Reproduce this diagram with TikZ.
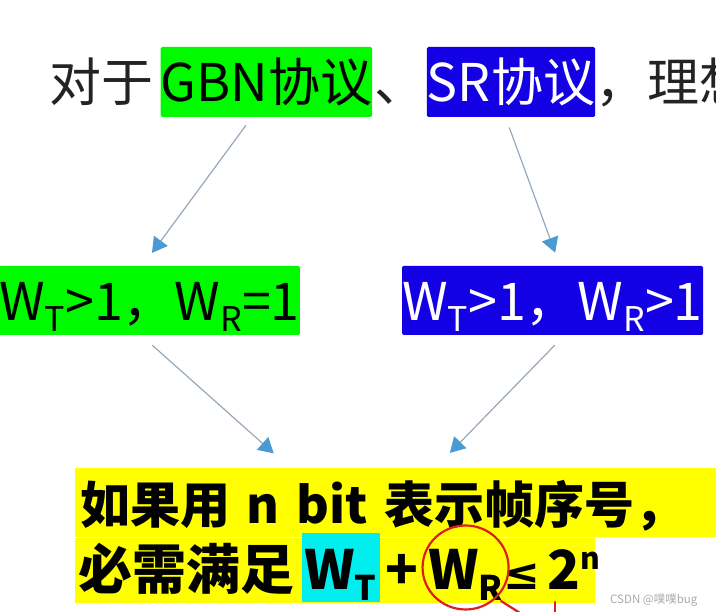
\documentclass[tikz,border=0pt]{standalone}
\usepackage{fontspec}
\setmainfont{Noto Sans CJK SC}
\newfontfamily\symf{DejaVu Sans}
\usetikzlibrary{arrows.meta, positioning}
\definecolor{hgreen}{RGB}{0,250,0}
\definecolor{hblue}{RGB}{20,0,228}
\definecolor{hyellow}{RGB}{255,255,0}
\definecolor{hcyan}{RGB}{0,238,238}
\definecolor{flowline}{RGB}{150,168,188}
\definecolor{flowhead}{RGB}{75,155,210}
\definecolor{penred}{RGB}{222,30,30}
\definecolor{txtgray}{RGB}{35,35,35}
\definecolor{wmgray}{RGB}{170,170,170}
\newcommand{\lowidx}[1]{\raisebox{-11pt}{\fontsize{34}{34}\selectfont #1}}
\newcommand{\upidx}[1]{\raisebox{20pt}{\fontsize{30}{30}\selectfont #1}}
\tikzset{
    toprow/.style={inner sep=0pt, text height=46pt, text depth=6pt, font=\fontsize{52}{60}\selectfont},
    hibox/.style={toprow, minimum height=70pt, rounded corners=1.5pt},
    cond/.style={fill=hyellow, inner xsep=5pt, inner ysep=0pt, align=left, text height=46pt, text depth=4pt, font=\bfseries\fontsize{50}{60}\selectfont},
    line2/.style={inner sep=0pt, text height=50pt, text depth=5pt, font=\bfseries\fontsize{54}{60}\selectfont},
    flow/.style={draw=flowline, line width=1.2pt, -{Triangle[length=15pt, width=17pt, color=flowhead]}},
    redmark/.style={draw=penred, line width=2.2pt, line cap=round}
}

\begin{document}
\begin{tikzpicture}[x=1pt, y=-1pt]
    \useasboundingbox (0,0) rectangle (716,612);
    \clip (0,0) rectangle (716,612);
    \node[toprow, anchor=base west, text=txtgray] (dui) at (49,102) {对于};
    \node[hibox, fill=hgreen, minimum width=211pt, right=7pt of dui] (gbn) {GBN协议};
    \node[toprow, text=txtgray, right=2pt of gbn] (dun) {、};
    \node[hibox, fill=hblue, text=white, minimum width=165pt, right=0pt of dun] (sr) {SR协议};
    \node[toprow, text=txtgray, right=0pt of sr] (li) {，理想};
    \node[hibox, fill=hgreen, minimum width=299pt, minimum height=69pt] (gbnw) at (149.5,300.5) {W\lowidx{T}>1，W\lowidx{R}=1};
    \node[hibox, fill=hblue, text=white, minimum width=301pt, minimum height=69pt] (srw) at (552.5,300.5) {W\lowidx{T}>1，W\lowidx{R}>1};
    \node[cond, anchor=north west, text width=631pt, minimum height=69pt] (cond) at (75,468) {如果用 n bit 表示帧序号，};
    \node[fill=hyellow, inner sep=0pt, anchor=north west, minimum width=520pt, minimum height=65pt] (condb) at (cond.south west) {};
    \node[line2, anchor=base west] (must) at (78,590) {必需满足};
    \node[line2, fill=hcyan, minimum width=78pt, minimum height=69pt, right=7pt of must] (wt) {W\lowidx{T}};
    \node[line2, right=5pt of wt] (plus) {+};
    \node[line2, right=10pt of plus] (wr) {W\lowidx{R}};
    \node[line2, right=0pt of wr] (leq) {{\symf\bfseries\fontsize{44}{44}\selectfont ≤}\hspace{7pt}2\upidx{n}};
    \node[anchor=base west, text=wmgray, inner sep=0pt, font=\fontsize{11.5}{13}\selectfont] (wm) at (610,604) {CSDN @噗噗bug};
    \draw[redmark] (wr.center) ellipse [x radius=43pt, y radius=42pt];
    \draw[redmark] (501,601) -- (520,613);
    \draw[redmark] (555,602) -- (555,613);
    \draw[flow, shorten <=10pt, shorten >=16pt] ([xshift=-14.5pt]gbn.south) -- ([xshift=-7pt]gbnw.north);
    \draw[flow, shorten <=11pt, shorten >=14pt] ([xshift=-5.5pt]sr.south) -- ([xshift=7.5pt]srw.north);
    \draw[flow, shorten <=15pt, shorten >=22pt] ([xshift=-8.5pt]gbnw.south) -- ([xshift=-105.5pt]cond.north);
    \draw[flow, shorten <=14pt, shorten >=21pt] ([xshift=12pt]srw.south) -- ([xshift=39.5pt]cond.north);
\end{tikzpicture}
\end{document}
